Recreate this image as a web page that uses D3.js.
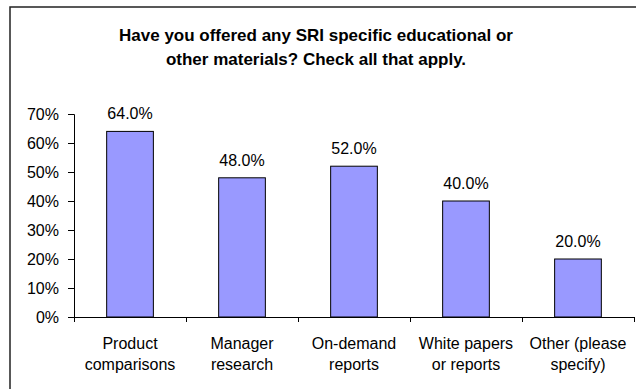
<!DOCTYPE html>
<html><head><meta charset="utf-8">
<script src="https://cdn.jsdelivr.net/npm/d3@7"></script>
<style>body{margin:0;background:#fff;overflow:hidden}svg{display:block}text{font-family:"Liberation Sans",Arial,sans-serif}</style>
</head><body><svg id="c" width="636" height="389"></svg>
<script>
const titleLines = ["Have you offered any SRI specific educational or", "other materials? Check all that apply."];
const categories = [["Product","comparisons"],["Manager","research"],["On-demand","reports"],["White papers","or reports"],["Other (please","specify)"]];
const values = [64.0, 48.0, 52.0, 40.0, 20.0];
const yTicks = [0,10,20,30,40,50,60,70];

const svg = d3.select("#c");
svg.append("rect").attr("x",10).attr("y",7).attr("width",700).attr("height",450)
  .attr("fill","#fff").attr("stroke","#222").attr("stroke-width",1.5);

svg.append("g").selectAll("text").data(titleLines).join("text")
  .attr("x",316).attr("y",(d,i)=>41+i*24).attr("text-anchor","middle")
  .attr("font-size",17).attr("font-weight","bold").attr("fill","#000").text(d=>d);

const L=74, R=634, T=114, B=317;
const idx = values.map((d,i)=>i);
const x = d3.scaleBand().domain(idx).range([L,R]).paddingInner(0.583).paddingOuter(0.2917);
const y = d3.scaleLinear().domain([0,70]).range([B,T]);

const ya = svg.append("g").attr("transform",`translate(${L},0)`)
  .call(d3.axisLeft(y).tickValues(yTicks).tickFormat(d=>d+"%").tickSize(6).tickPadding(9));
ya.selectAll("text").attr("font-size",16).attr("fill","#000").style("font-family","Liberation Sans, Arial, sans-serif");
ya.selectAll("line,path").attr("stroke","#000");

svg.append("g").selectAll("rect").data(values).join("rect")
  .attr("x",(d,i)=>x(i)).attr("width",x.bandwidth())
  .attr("y",d=>y(d)).attr("height",d=>B-y(d))
  .attr("fill","#9999FF").attr("stroke","#000").attr("stroke-width",1);

svg.append("g").selectAll("text").data(values).join("text")
  .attr("x",(d,i)=>x(i)+x.bandwidth()/2).attr("y",d=>y(d)-12)
  .attr("text-anchor","middle").attr("font-size",16).attr("fill","#000")
  .text(d=>d.toFixed(1)+"%");

const xs = d3.scaleLinear().domain([0,categories.length]).range([L,R]);
const xa = svg.append("g").attr("transform",`translate(0,${B})`)
  .call(d3.axisBottom(xs).tickValues(d3.range(categories.length+1)).tickFormat("").tickSize(5).tickSizeOuter(0));
xa.selectAll("line,path").attr("stroke","#000");

const cl = svg.append("g").selectAll("text").data(categories).join("text")
  .attr("text-anchor","middle").attr("font-size",16).attr("fill","#000");
cl.each(function(d,i){
  const t=d3.select(this);
  d.forEach((s,j)=>t.append("tspan").attr("x",x(i)+x.bandwidth()/2).attr("y",349+j*21).text(s));
});
</script></body></html>
